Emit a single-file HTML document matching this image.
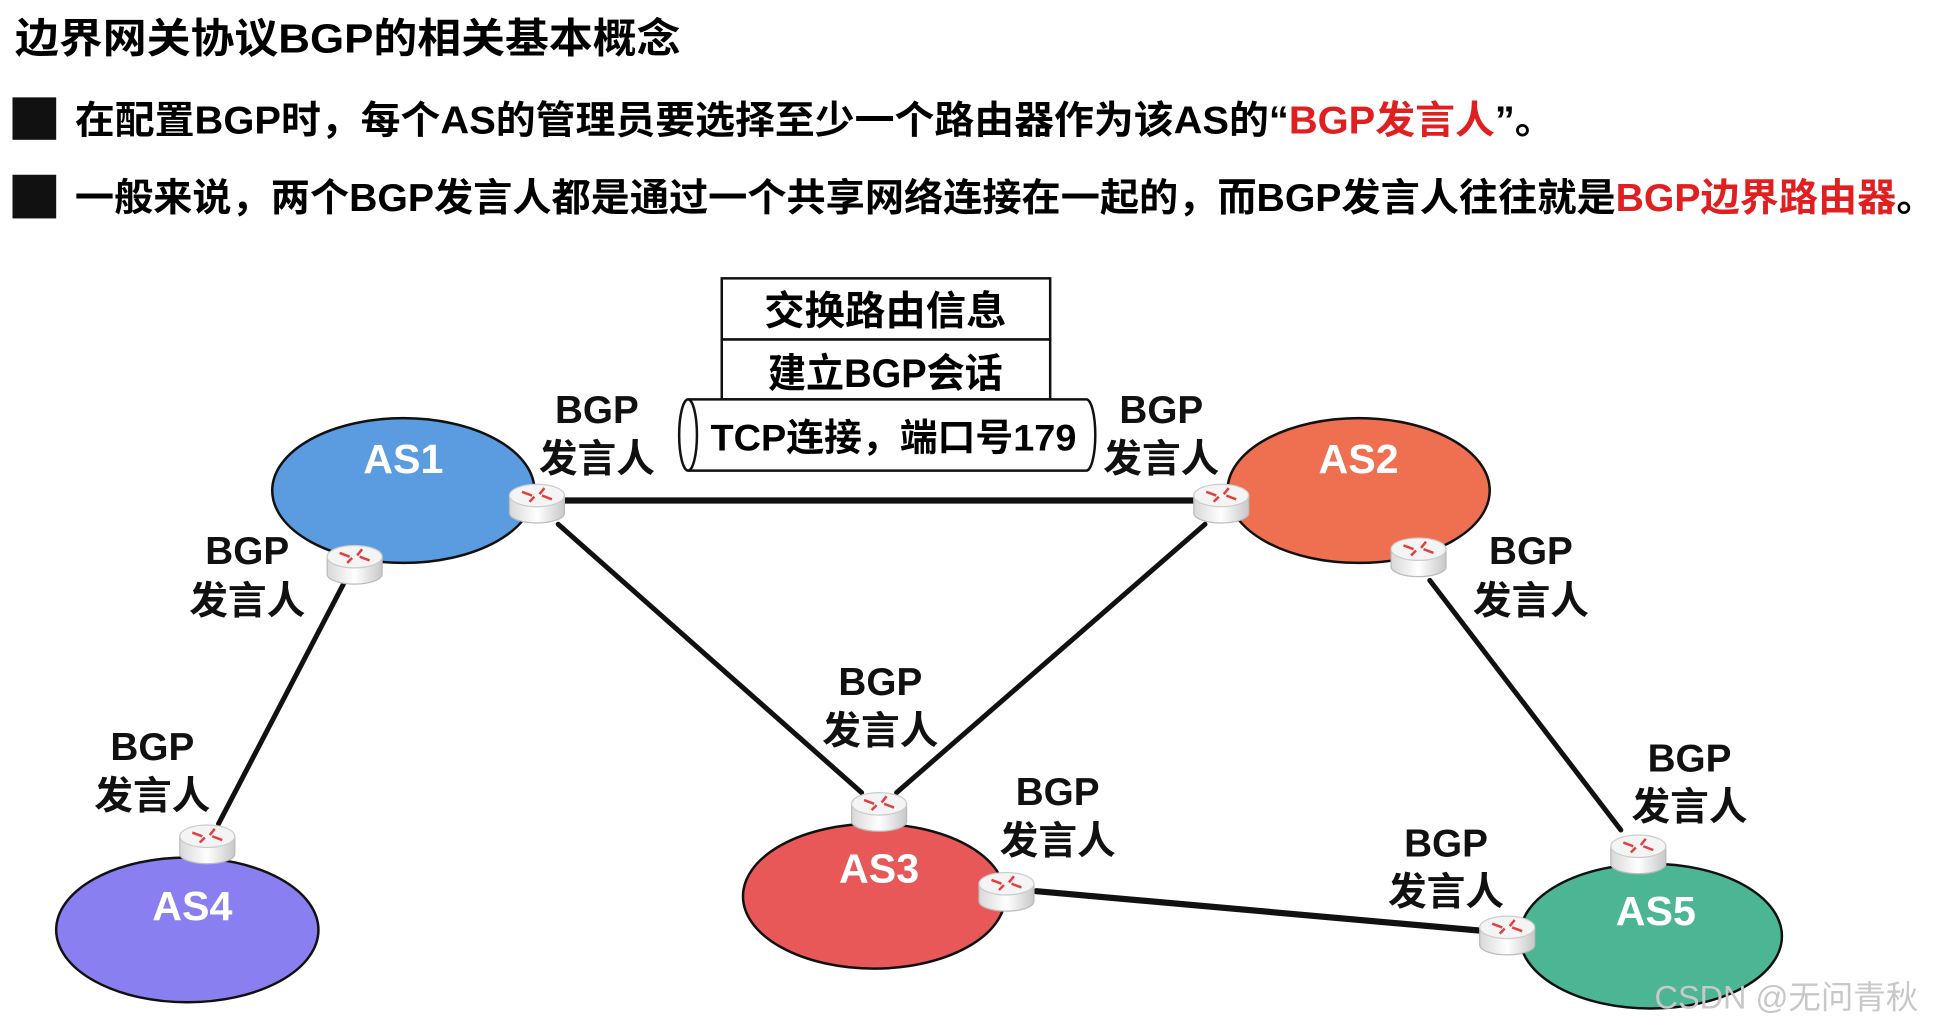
<!DOCTYPE html>
<html><head><meta charset="utf-8"><style>
html,body{margin:0;padding:0;background:#fff;overflow:hidden}
svg{display:block}
text{font-family:"Liberation Sans","Noto Sans CJK SC",sans-serif;font-weight:bold}
</style></head><body>
<svg width="1958" height="1031" viewBox="0 0 1568 826" preserveAspectRatio="none" xmlns="http://www.w3.org/2000/svg">
<defs>
<linearGradient id="rg" x1="0" x2="1" y1="0" y2="0"><stop offset="0" stop-color="#d8d8d8"/><stop offset="0.5" stop-color="#ffffff"/><stop offset="1" stop-color="#c8c8c8"/></linearGradient>
<g id="router">
<path d="M-22,-6 v14 a22,8 0 0 0 44,0 v-14" fill="url(#rg)" stroke="#bbb" stroke-width="1"/>
<ellipse cx="0" cy="-6" rx="22" ry="9" fill="#f4f4f4" stroke="#ccc" stroke-width="1"/>
<g stroke="#e04040" stroke-width="2">
<line x1="-12" y1="-9" x2="-4" y2="-6"/><line x1="12" y1="-3" x2="4" y2="-6"/>
<line x1="-6" y1="-1" x2="-2" y2="-5"/><line x1="6" y1="-12" x2="2" y2="-7"/>
</g></g>
</defs>
<text x="12" y="42" font-size="33" textLength="533" lengthAdjust="spacingAndGlyphs">边界网关协议BGP的相关基本概念</text>
<rect x="10" y="78" width="35" height="34" fill="#111"/>
<text x="60" y="107" font-size="31" textLength="1185" lengthAdjust="spacingAndGlyphs">在配置BGP时，每个AS的管理员要选择至少一个路由器作为该AS的“<tspan fill="#e02020">BGP发言人</tspan>”。</text>
<rect x="10" y="140" width="35" height="35" fill="#111"/>
<text x="60" y="169" font-size="31" textLength="1490" lengthAdjust="spacingAndGlyphs">一般来说，两个BGP发言人都是通过一个共享网络连接在一起的，而BGP发言人往往就是<tspan fill="#e02020">BGP边界路由器</tspan>。</text>

<ellipse cx="323" cy="393" rx="105" ry="58" fill="#5b9be0" stroke="#111" stroke-width="2"/>
<ellipse cx="1088" cy="393" rx="105" ry="58" fill="#ee7050" stroke="#111" stroke-width="2"/>
<ellipse cx="700" cy="718" rx="105" ry="58" fill="#e85858" stroke="#111" stroke-width="2"/>
<ellipse cx="150" cy="745" rx="105" ry="58" fill="#8a7ff0" stroke="#111" stroke-width="2"/>
<ellipse cx="1322" cy="750" rx="105" ry="58" fill="#4cb594" stroke="#111" stroke-width="2"/>
<g fill="#fff" font-size="33" text-anchor="middle">
<text x="323" y="379">AS1</text><text x="1088" y="379">AS2</text><text x="704" y="707">AS3</text><text x="154" y="737">AS4</text><text x="1326" y="741">AS5</text>
</g>

<g stroke="#111" stroke-linecap="round">
<line x1="430" y1="401" x2="978" y2="401" stroke-width="5"/>
<line x1="447" y1="420" x2="690" y2="635" stroke-width="4"/>
<line x1="965" y1="420" x2="718" y2="635" stroke-width="4"/>
<line x1="275" y1="468" x2="175" y2="660" stroke-width="4"/>
<line x1="1145" y1="465" x2="1298" y2="665" stroke-width="4"/>
<line x1="830" y1="714" x2="1190" y2="746" stroke-width="5"/>
</g>

<use href="#router" x="430" y="403"/><use href="#router" x="284" y="452"/>
<use href="#router" x="978" y="403"/><use href="#router" x="1136" y="446"/>
<use href="#router" x="704" y="650"/><use href="#router" x="806" y="714"/>
<use href="#router" x="166" y="676"/><use href="#router" x="1312" y="684"/>
<use href="#router" x="1207" y="749"/>

<rect x="578" y="223" width="263" height="49" fill="#fff" stroke="#111" stroke-width="2"/>
<rect x="578" y="272" width="263" height="48" fill="#fff" stroke="#111" stroke-width="2"/>
<text x="612" y="260" font-size="32" textLength="194" lengthAdjust="spacingAndGlyphs">交换路由信息</text>
<text x="615" y="310" font-size="32" textLength="188" lengthAdjust="spacingAndGlyphs">建立BGP会话</text>
<path d="M551,320 H870 A7,28 0 0 1 870,377 H551 A7,28 0 0 1 551,320 Z" fill="#fff" stroke="#111" stroke-width="2"/>
<path d="M551,320 A7,28 0 0 1 551,377" fill="none" stroke="#111" stroke-width="2"/>
<text x="569" y="361" font-size="30" textLength="293" lengthAdjust="spacingAndGlyphs">TCP连接，端口号179</text>

<g font-size="31" text-anchor="middle" fill="#111">
<text x="478" y="339">BGP</text><text x="478" y="378">发言人</text>
<text x="930" y="339">BGP</text><text x="930" y="378">发言人</text>
<text x="198" y="452">BGP</text><text x="198" y="492">发言人</text>
<text x="1226" y="452">BGP</text><text x="1226" y="492">发言人</text>
<text x="705" y="557">BGP</text><text x="705" y="596">发言人</text>
<text x="122" y="609">BGP</text><text x="122" y="648">发言人</text>
<text x="847" y="645">BGP</text><text x="847" y="684">发言人</text>
<text x="1353" y="618">BGP</text><text x="1353" y="657">发言人</text>
<text x="1158" y="686">BGP</text><text x="1158" y="725">发言人</text>
</g>
<text x="1325" y="808" font-size="26" fill="#c8c8c8" style="font-weight:normal">CSDN @无问青秋</text>
</svg>
</body></html>
